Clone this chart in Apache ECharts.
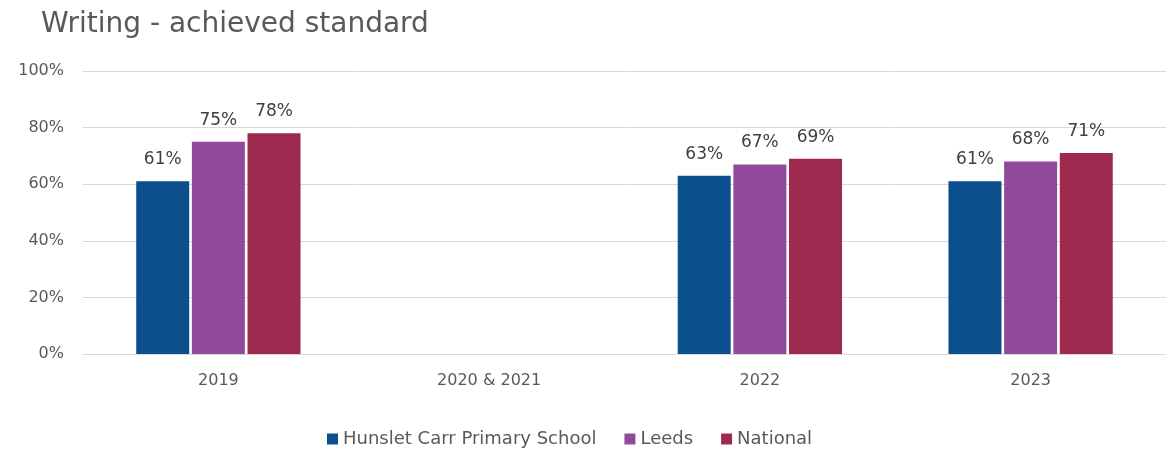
<!DOCTYPE html>
<html>
<head>
<meta charset="utf-8">
<script src="https://cdn.jsdelivr.net/npm/echarts@6/dist/echarts.min.js"></script>
<style>
  html, body { margin: 0; padding: 0; background: #ffffff; }
  #chart { width: 1166px; height: 450px; }
</style>
</head>
<body>
<div id="chart"></div>
<script>
// Key Stage 2 writing results by year
const years = ['2019', '2020 & 2021', '2022', '2023'];
const school = [61, null, 63, 61];
const leeds = [75, null, 67, 68];
const national = [78, null, 69, 71];
const yTicks = [0, 20, 40, 60, 80, 100];

const seriesNames = ['Hunslet Carr Primary School', 'Leeds', 'National'];
const seriesColors = ['#0b4f8c', '#8f4a9b', '#9e2b4f'];
const fontFamily = '"DejaVu Sans", "Noto Sans", sans-serif';

const chart = echarts.init(document.getElementById('chart'));

function barSeries(name, data, color) {
  return {
    name: name,
    type: 'bar',
    data: data,
    barWidth: 53,
    barGap: '5%',
    itemStyle: { color: color },
    label: {
      show: true,
      position: 'top',
      distance: 13,
      color: '#404040',
      fontSize: 17,
      fontFamily: fontFamily,
      formatter: p => p.value + '%'
    }
  };
}

chart.setOption({
  animation: false,
  title: {
    text: 'Writing - achieved standard',
    left: 36,
    top: 6,
    textStyle: { color: '#595959', fontSize: 28, fontWeight: 'normal', fontFamily: fontFamily }
  },
  legend: {
    top: 425,
    left: 322,
    itemWidth: 11,
    itemHeight: 11,
    itemGap: 28,
    icon: 'rect',
    textStyle: { color: '#595959', fontSize: 18, fontFamily: fontFamily }
  },
  grid: { left: 83, right: -6, top: 71, bottom: 96 },
  xAxis: {
    type: 'category',
    data: years,
    axisTick: { show: false },
    axisLine: { lineStyle: { color: '#d9d9d9' } },
    axisLabel: { color: '#595959', fontSize: 16, margin: 19, fontFamily: fontFamily }
  },
  yAxis: {
    type: 'value',
    min: yTicks[0],
    max: yTicks[yTicks.length - 1],
    interval: yTicks[1] - yTicks[0],
    axisLabel: { color: '#595959', fontSize: 16, margin: 19, fontFamily: fontFamily, formatter: '{value}%' },
    splitLine: { lineStyle: { color: '#d9d9d9' } }
  },
  series: [
    barSeries(seriesNames[0], school, seriesColors[0]),
    barSeries(seriesNames[1], leeds, seriesColors[1]),
    barSeries(seriesNames[2], national, seriesColors[2])
  ]
});
</script>
</body>
</html>
